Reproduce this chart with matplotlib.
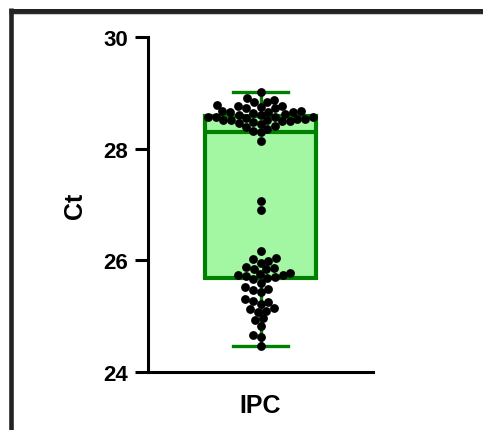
import numpy as np
import matplotlib
matplotlib.use("Agg")
import matplotlib.pyplot as plt
from matplotlib.lines import Line2D

plt.rcParams["font.family"] = ["Liberation Sans", "DejaVu Sans"]
plt.rcParams["font.weight"] = "bold"

# Ct values for the IPC group
group_label = "IPC"
ct_low = [24.46, 24.62, 24.67, 24.82, 24.93, 24.97, 25.08, 25.10, 25.12,
          25.14, 25.22, 25.25, 25.27, 25.30, 25.44, 25.46, 25.48, 25.52,
          25.60, 25.66, 25.69, 25.71, 25.72, 25.73, 25.74, 25.76, 25.78,
          25.84, 25.85, 25.87, 25.88, 25.96, 25.99, 26.02, 26.05, 26.16]
ct_mid = [26.91, 27.07]
ct_high = [28.14, 28.29, 28.31, 28.36, 28.39, 28.41, 28.44, 28.46, 28.48,
           28.49, 28.50, 28.51, 28.51, 28.52, 28.53, 28.54, 28.55, 28.56,
           28.56, 28.57, 28.57,
           28.60, 28.61, 28.62, 28.64, 28.65, 28.66, 28.66, 28.67, 28.68,
           28.72, 28.73, 28.75, 28.76, 28.77, 28.78,
           28.83, 28.84, 28.88, 28.90, 29.02]
y_ticks = [24, 26, 28, 30]

ct = np.array(ct_low + ct_mid + ct_high)

W, H = 483, 431
fig = plt.figure(figsize=(W / 100, H / 100), dpi=100)
ax = fig.add_axes([148 / W, 58 / H, 225 / W, 335 / H])
ax.set_xlim(-0.5, 0.5)
ax.set_ylim(24, 30)

edge = "#008000"
fill = "#A3F7A3"
ax.boxplot([ct], positions=[0], widths=0.49, whis=(0, 100),
           patch_artist=True, showfliers=False, capwidths=[0.245],
           boxprops=dict(facecolor=fill, edgecolor=edge, linewidth=3.0),
           medianprops=dict(color=edge, linewidth=3.0),
           whiskerprops=dict(color=edge, linewidth=2.4),
           capprops=dict(color=edge, linewidth=2.4),
           zorder=2)

# swarm layout computed in pixel space (dots may overlap slightly)
dot = 8.8
gap = 8.0
order = np.argsort(ct)
pix_y = ax.transData.transform(np.column_stack([np.zeros_like(ct), ct]))[:, 1]
x0 = ax.transData.transform((0, 24))[0]
placed = []
xs = np.zeros_like(ct)
for i in order:
    yi = pix_y[i]
    cands = [0.0]
    near = [(px, py) for px, py in placed if abs(py - yi) < gap]
    for px, py in near:
        dx = np.sqrt(gap * gap - (py - yi) ** 2)
        cands += [px + dx, px - dx]
    cands = sorted(cands, key=lambda c: (abs(c), c))
    for c in cands:
        if all((c - px) ** 2 + (yi - py) ** 2 >= gap * gap - 1e-6
               for px, py in near):
            break
    placed.append((c, yi))
    xs[i] = c
data_x = ax.transData.inverted().transform(
    np.column_stack([x0 + xs, pix_y]))[:, 0]
ax.scatter(data_x, ct, s=(dot * 0.72) ** 2, color="black", linewidths=0,
           zorder=3, clip_on=False)

for side in ("top", "right"):
    ax.spines[side].set_visible(False)
for side in ("left", "bottom"):
    ax.spines[side].set_linewidth(2.2)
    ax.spines[side].set_color("black")

ax.set_yticks(y_ticks)
ax.set_yticklabels([str(t) for t in y_ticks])
ax.tick_params(axis="y", direction="out", length=9.5, width=2.2,
               pad=5, labelsize=16)
ax.set_xticks([0])
ax.set_xticklabels([group_label])
ax.tick_params(axis="x", length=0, pad=15, labelsize=18)
for lab in ax.get_xticklabels() + ax.get_yticklabels():
    lab.set_fontweight("bold")

ax.set_ylabel("Ct", fontsize=18, fontweight="bold")
ax.yaxis.set_label_coords(-0.27, 0.5)

# dark frame along the top and left edges
fig.add_artist(Line2D([9 / W, 1], [1 - 11.5 / H, 1 - 11.5 / H],
                      transform=fig.transFigure, color="#222222", lw=3.6,
                      solid_capstyle="butt"))
fig.add_artist(Line2D([9 / W, 1], [1 - 15 / H, 1 - 15 / H],
                      transform=fig.transFigure, color="#cccccc", lw=0.8))
fig.add_artist(Line2D([11 / W, 11 / W], [0, 1 - 9 / H],
                      transform=fig.transFigure, color="#222222", lw=3.3,
                      solid_capstyle="butt"))

fig.savefig("out.png", dpi=100)
